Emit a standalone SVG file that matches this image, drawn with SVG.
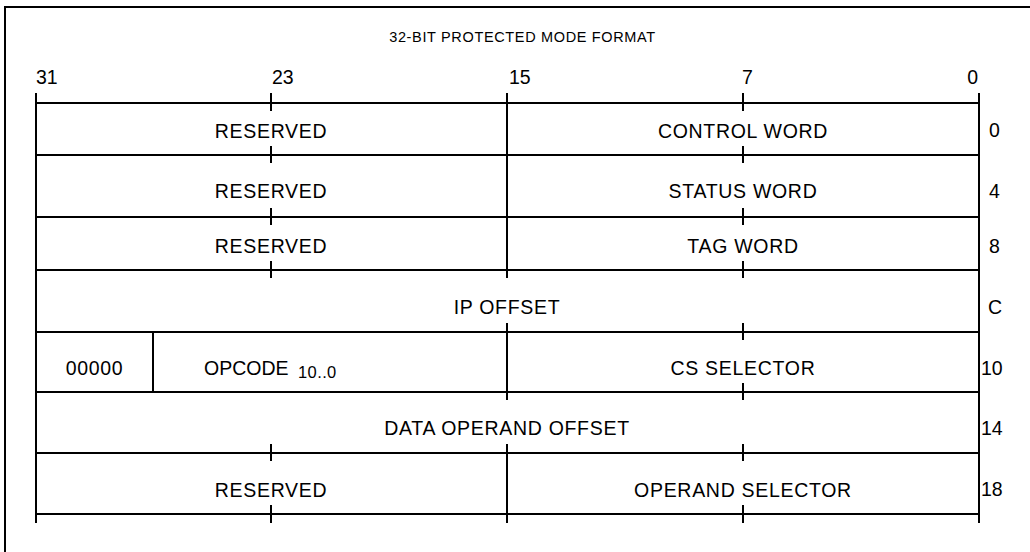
<svg xmlns="http://www.w3.org/2000/svg" width="1030" height="552" viewBox="0 0 1030 552">
<style>
  text { font-family: "Liberation Sans", Arial, Helvetica, sans-serif; fill: #000; }
  .lbl { font-size: 19.5px; letter-spacing: 0.7px; text-anchor: middle; }
  .bit { font-size: 19.5px; }
  .off { font-size: 19.5px; }
  .title { font-size: 14.5px; letter-spacing: 0.65px; text-anchor: middle; }
  .sub { font-size: 16.5px; letter-spacing: 0.4px; }
  .ln { stroke: #000; stroke-width: 2; fill: none; }
</style>
<rect x="0" y="0" width="1030" height="552" fill="#fff"/>
<g id="frame"><path class="ln" d="M5,560 V7 H1040"/></g>
<g id="title"><text class="title" x="522.5" y="42">32-BIT PROTECTED MODE FORMAT</text></g>
<g id="bit-numbers">
  <text class="bit" x="36" y="84">31</text>
  <text class="bit" x="272" y="84">23</text>
  <text class="bit" x="509" y="84">15</text>
  <text class="bit" x="742" y="84">7</text>
  <text class="bit" x="978" y="84" text-anchor="end">0</text>
</g>
<g id="connectors">
  <path class="ln" d="M36,103 H980 M36,155 H980 M36,217 H980 M36,270 H980 M36,332 H980 M36,392 H980 M36,453 H980 M36,514 H980"/>
  <path class="ln" d="M36,93 V523 M979,93 V523"/>
  <path class="ln" d="M507,93 V278 M507,323 V400 M507,444 V523"/>
  <path class="ln" d="M153,332 V392"/>
  <path class="ln" d="M271,93 V111 M271,146 V163 M271,208 V225 M271,261 V278 M271,444 V461 M271,505 V523"/>
  <path class="ln" d="M743,93 V111 M743,146 V163 M743,208 V225 M743,261 V278 M743,323 V340 M743,383 V400 M743,444 V461 M743,505 V523"/>
</g>
<g id="row0-reserved"><text class="lbl" x="271" y="138">RESERVED</text></g>
<g id="row0-control-word"><text class="lbl" x="743" y="138">CONTROL WORD</text></g>
<g id="row1-reserved"><text class="lbl" x="271" y="198">RESERVED</text></g>
<g id="row1-status-word"><text class="lbl" x="743" y="198">STATUS WORD</text></g>
<g id="row2-reserved"><text class="lbl" x="271" y="253">RESERVED</text></g>
<g id="row2-tag-word"><text class="lbl" x="743" y="253">TAG WORD</text></g>
<g id="row3-ip-offset"><text class="lbl" x="507" y="314">IP OFFSET</text></g>
<g id="row4-zeros"><text class="lbl" x="94.5" y="375">00000</text></g>
<g id="row4-opcode"><text class="bit" x="204" y="375">OPCODE<tspan class="sub" x="298" y="378">10..0</tspan></text></g>
<g id="row4-cs-selector"><text class="lbl" x="743" y="375">CS SELECTOR</text></g>
<g id="row5-data-operand-offset"><text class="lbl" x="507" y="435">DATA OPERAND OFFSET</text></g>
<g id="row6-reserved"><text class="lbl" x="271" y="497">RESERVED</text></g>
<g id="row6-operand-selector"><text class="lbl" x="743" y="497">OPERAND SELECTOR</text></g>
<g id="offsets">
  <text class="off" x="989" y="137">0</text>
  <text class="off" x="989" y="198">4</text>
  <text class="off" x="989" y="253">8</text>
  <text class="off" x="988" y="314">C</text>
  <text class="off" x="981" y="375">10</text>
  <text class="off" x="981" y="435">14</text>
  <text class="off" x="981" y="496">18</text>
</g>
</svg>
